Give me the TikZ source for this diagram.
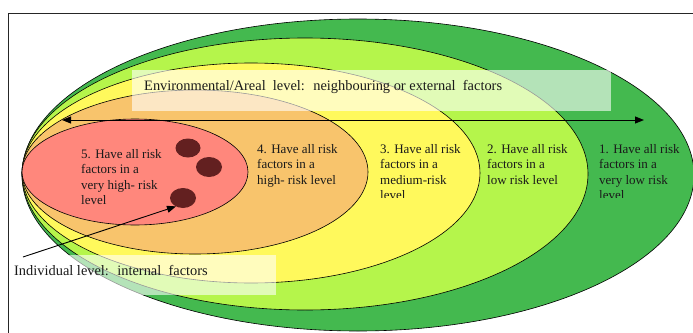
\documentclass[tikz,border=0pt]{standalone}
\usepackage{fontspec}
\setmainfont{Liberation Serif}
\usetikzlibrary{shapes.geometric,arrows.meta}

\definecolor{ringVeryLow}{HTML}{44B94F}
\definecolor{ringLow}{HTML}{B5F54B}
\definecolor{ringMedium}{HTML}{FFF95C}
\definecolor{ringHigh}{HTML}{F8C46C}
\definecolor{ringVeryHigh}{HTML}{FF877C}
\definecolor{dotred}{HTML}{632020}
\definecolor{ink}{HTML}{1A1A1A}

\tikzset{
  ring/.style={ellipse, draw=black, line width=0.6pt, inner sep=0pt, outer sep=0pt},
  riskdot/.style={ellipse, fill=dotred, inner sep=0pt, outer sep=0pt,
    minimum width=25pt, minimum height=19pt},
  risklabel/.style={anchor=north west, inner sep=0pt, align=left, text=ink,
    font=\fontsize{13}{15.5}\selectfont},
  levellabel/.style={anchor=base west, inner sep=0pt, text=ink,
    font=\fontsize{14.4}{17}\selectfont},
  veil/.style={fill=white, fill opacity=0.6},
  pointer/.style={draw=black, line width=0.9pt,
    -{Triangle[length=9pt,width=7pt]}},
  span/.style={draw=black, line width=1pt,
    {Triangle[length=9pt,width=7pt]}-{Triangle[length=9pt,width=7pt]}}
}

\begin{document}
\begin{tikzpicture}[x=1pt,y=-1pt]
  \clip (0,0) rectangle (693,332);
  \fill[white] (0,0) rectangle (693,332);

  % outer frame
  \draw[line width=1pt, black!85] (8,13) rectangle (720,360);

  % nested risk zones, outermost first
  \node[ring, fill=ringVeryLow, minimum width=672pt, minimum height=312pt] (zoneVeryLow) at (358,175) {};
  \node[ring, fill=ringLow, minimum width=566pt, minimum height=272pt] (zoneLow) at (305,174) {};
  \node[ring, fill=ringMedium, minimum width=458pt, minimum height=220pt] (zoneMedium) at (251,173) {};
  \node[ring, fill=ringHigh, minimum width=346pt, minimum height=164pt] (zoneHigh) at (195,172) {};
  \node[ring, fill=ringVeryHigh, minimum width=226pt, minimum height=106pt] (zoneVeryHigh) at (135,172) {};

  % individuals inside the core zone
  \node[riskdot] (dotA) at (188,148) {};
  \node[riskdot, minimum width=26pt, minimum height=20pt] (dotB) at (209,167) {};
  \node[riskdot, minimum width=26pt, minimum height=20pt] (dotC) at (183,198) {};

  % zone labels
  \node[risklabel] (labVeryHigh) at (81,149) {5. Have all risk\\factors in a\\very high- risk\\level};
  \node[risklabel] (labHigh) at (257,144) {4. Have all risk\\factors in a\\high- risk level};
  \begin{scope}
    \clip (370,130) rectangle (480,197);
    \node[risklabel] (labMedium) at (380,144) {3. Have all risk\\factors in a\\medium-risk\\level};
  \end{scope}
  \node[risklabel] (labLow) at (487,144) {2. Have all risk\\factors in a\\low risk level};
  \begin{scope}
    \clip (590,130) rectangle (693,197);
    \node[risklabel] (labVeryLow) at (599,144) {1. Have all risk\\factors in a\\very low risk\\level};
  \end{scope}

  % environmental level
  \fill[veil] (132,70) rectangle (611,111);
  \node[levellabel] (envText) at (144,90) {Environmental/Areal~ level:~ neighbouring or external~ factors};
  \coordinate (spanL) at (62,120);
  \coordinate (spanR) at (644,120);
  \draw[span] (spanL) -- (spanR);

  % individual level
  \fill[veil] (10,255) rectangle (276,295);
  \node[levellabel] (indText) at (14,275) {Individual level:~ internal~ factors};
  \coordinate (indStart) at (23,257);
  \draw[pointer] (indStart) -- (dotC.230);
\end{tikzpicture}
\end{document}
